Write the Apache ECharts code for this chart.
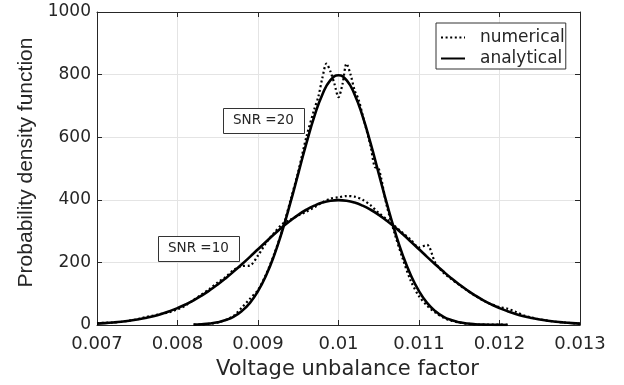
<!DOCTYPE html>
<html>
<head>
<meta charset="utf-8">
<script src="https://cdn.jsdelivr.net/npm/echarts@6/dist/echarts.min.js"></script>
<style>
html,body{margin:0;padding:0;background:#fff;}
#chart{width:624px;height:385px;}
</style>
</head>
<body>
<div id="chart"></div>
<script>
// x grid for SNR = 10 curves (0.0070 .. 0.0130)
var x10 = [0.0070,0.0071,0.0072,0.0073,0.0074,0.0075,0.0076,0.0077,0.0078,0.0079,
  0.0080,0.0081,0.0082,0.0083,0.0084,0.0085,0.0086,0.0087,0.0088,0.0089,
  0.0090,0.0091,0.0092,0.0093,0.0094,0.0095,0.0096,0.0097,0.0098,0.0099,
  0.0100,0.0101,0.0102,0.0103,0.0104,0.0105,0.0106,0.0107,0.0108,0.0109,
  0.0110,0.0111,0.0112,0.0113,0.0114,0.0115,0.0116,0.0117,0.0118,0.0119,
  0.0120,0.0121,0.0122,0.0123,0.0124,0.0125,0.0126,0.0127,0.0128,0.0129,0.0130];
var analytical10 = [4.4,5.9,7.9,10.4,13.6,17.5,22.4,28.3,35.5,44.0,
  54.0,65.6,78.9,94.0,110.9,129.5,149.7,171.4,194.2,217.8,
  242.0,266.1,289.7,312.2,333.2,352.0,368.2,381.3,391.0,396.9,
  398.9,396.9,391.0,381.3,368.2,352.0,333.2,312.2,289.7,266.1,
  242.0,217.8,194.2,171.4,149.7,129.5,110.9,94.0,78.9,65.6,
  54.0,44.0,35.5,28.3,22.4,17.5,13.6,10.4,7.9,5.9,4.4];
var numerical10 = [6,7,8,10,14,18,25,30,36,41,
  50,62,80,98,116,136,154,176,188,190,
  222,262,294,322,336,350,362,376,392,404,
  408,412,410,400,382,358,338,316,294,272,
  248,256,200,168,147,128,110,93,78,66,
  57,52,42,31,24,18,14,10,8,6,4];

// x grid for SNR = 20 analytical curve (0.0082 .. 0.0121)
var x20 = [0.0082,0.0083,0.0084,0.0085,0.0086,0.0087,0.0088,0.0089,
  0.0090,0.0091,0.0092,0.0093,0.0094,0.0095,0.0096,0.0097,0.0098,0.0099,
  0.0100,0.0101,0.0102,0.0103,0.0104,0.0105,0.0106,0.0107,0.0108,0.0109,
  0.0110,0.0111,0.0112,0.0113,0.0114,0.0115,0.0116,0.0117,0.0118,0.0119,0.0120,0.0121];
var analytical20 = [1.2,2.5,4.8,8.8,15.8,27.1,44.8,70.9,
  108.0,157.9,221.8,299.5,388.4,483.9,579.4,666.5,736.6,782.1,
  797.9,782.1,736.6,666.5,579.4,483.9,388.4,299.5,221.8,157.9,
  108.0,70.9,44.8,27.1,15.8,8.8,4.8,2.5,1.2,0.6,0.3,0.1];

// numerical SNR = 20 (finer near the peak)
var xNum20 = [0.0082,0.0083,0.0084,0.0085,0.0086,0.0087,0.0088,0.0089,
  0.0090,0.0091,0.0092,0.0093,0.0094,0.0095,0.0096,0.0097,0.00975,
  0.0098,0.00985,0.0099,0.00995,0.0100,0.01005,0.0101,0.01015,0.0102,0.01025,
  0.0103,0.0104,0.01045,0.0105,0.0106,0.0107,0.0108,0.0109,
  0.0110,0.0111,0.0112,0.0113,0.0114,0.0115,0.0116,0.0117,0.0118,0.0119,0.0120,0.0121];
var numerical20 = [1,2,4,8,16,30,56,84,
  112,162,226,302,395,490,600,690,730,
  790,835,810,770,728,770,835,800,750,720,
  670,570,505,500,380,290,210,140,
  92,62,40,24,14,8,4,2,1,1,1,1];

var xTicks = [0.007,0.008,0.009,0.010,0.011,0.012,0.013];
var yTicks = [0,200,400,600,800,1000];
var snrLabels = ['SNR =20','SNR =10'];

function pairs(xs, ys){ return xs.map(function(x,i){ return [x, ys[i]]; }); }

var chart = echarts.init(document.getElementById('chart'));
var axisColor = '#262626';
var dotted = {color:'#000', width:2.2, type:[2,2.6]};
var solid = {color:'#000', width:2.6, type:'solid'};

chart.setOption({
  animation:false,
  backgroundColor:'#fff',
  color:['#000'],
  grid:{left:97, right:44, top:12, bottom:59},
  legend:{
    orient:'vertical', left:436, top:23,
    data:['numerical','analytical'],
    itemWidth:24, itemHeight:14, itemGap:4,
    padding:[6,1,2,4],
    borderColor:'#333', borderWidth:1, backgroundColor:'#fff',
    selectedMode:false,
    itemStyle:{opacity:0},
    textStyle:{fontFamily:'DejaVu Sans', fontSize:17, color:'#262626', padding:[0,0,0,10]}
  },
  xAxis:[{
    type:'value', min:xTicks[0], max:xTicks[xTicks.length-1], interval:0.001,
    axisLine:{show:true, onZero:false, lineStyle:{color:axisColor, width:1}},
    axisTick:{show:true, inside:true, length:5, lineStyle:{color:axisColor}},
    axisLabel:{fontFamily:'DejaVu Sans', fontSize:18, color:'#262626', margin:10,
      formatter:function(v){ return String(Number(v.toFixed(3))); }},
    splitLine:{show:true, lineStyle:{color:'#e4e4e4', width:1}},
    name:'Voltage unbalance factor', nameLocation:'middle', nameGap:34,
    nameTextStyle:{fontFamily:'DejaVu Sans', fontSize:21, color:'#262626', padding:[0,0,0,18]}
  },{
    type:'value', position:'top', min:xTicks[0], max:xTicks[xTicks.length-1], interval:0.001,
    axisLine:{show:true, onZero:false, lineStyle:{color:axisColor, width:1}},
    axisTick:{show:true, inside:true, length:5, lineStyle:{color:axisColor}},
    axisLabel:{show:false}, splitLine:{show:false}
  }],
  yAxis:[{
    type:'value', min:yTicks[0], max:yTicks[yTicks.length-1], interval:200,
    axisLine:{show:true, onZero:false, lineStyle:{color:axisColor, width:1}},
    axisTick:{show:true, inside:true, length:5, lineStyle:{color:axisColor}},
    axisLabel:{fontFamily:'DejaVu Sans', fontSize:17, color:'#262626', margin:6,
      formatter:function(v){ return String(v); }},
    splitLine:{show:true, lineStyle:{color:'#e4e4e4', width:1}},
    name:'Probability density function', nameLocation:'middle', nameGap:50,
    nameTextStyle:{fontFamily:'Liberation Sans', fontSize:21, color:'#262626', padding:[0,0,0,12]}
  },{
    type:'value', position:'right', min:yTicks[0], max:yTicks[yTicks.length-1], interval:200,
    axisLine:{show:true, onZero:false, lineStyle:{color:axisColor, width:1}},
    axisTick:{show:true, inside:true, length:5, lineStyle:{color:axisColor}},
    axisLabel:{show:false}, splitLine:{show:false}
  }],
  series:[
    {name:'numerical', type:'line', data:pairs(x10, numerical10), symbol:'none', showSymbol:false, smooth:0.3, lineStyle:dotted, itemStyle:{color:'#000'}, z:3},
    {name:'numerical', type:'line', data:pairs(xNum20, numerical20), symbol:'none', showSymbol:false, smooth:0.3, lineStyle:dotted, itemStyle:{color:'#000'}, z:3},
    {name:'analytical', type:'line', data:pairs(x10, analytical10), symbol:'none', showSymbol:false, smooth:true, lineStyle:solid, itemStyle:{color:'#000'}, z:4},
    {name:'analytical', type:'line', data:pairs(x20, analytical20), symbol:'none', showSymbol:false, smooth:true, lineStyle:solid, itemStyle:{color:'#000'}, z:4}
  ],
  graphic:[
    {type:'rect', left:223, top:108, shape:{width:81, height:25}, style:{fill:'#fff', stroke:'#333', lineWidth:1}, z:10},
    {type:'text', left:233, top:113, style:{text:snrLabels[0], font:'13.5px "DejaVu Sans"', fill:'#262626'}, z:11},
    {type:'rect', left:158, top:236, shape:{width:81, height:25}, style:{fill:'#fff', stroke:'#333', lineWidth:1}, z:10},
    {type:'text', left:168, top:241, style:{text:snrLabels[1], font:'13.5px "DejaVu Sans"', fill:'#262626'}, z:11}
  ]
});
</script>
</body>
</html>
